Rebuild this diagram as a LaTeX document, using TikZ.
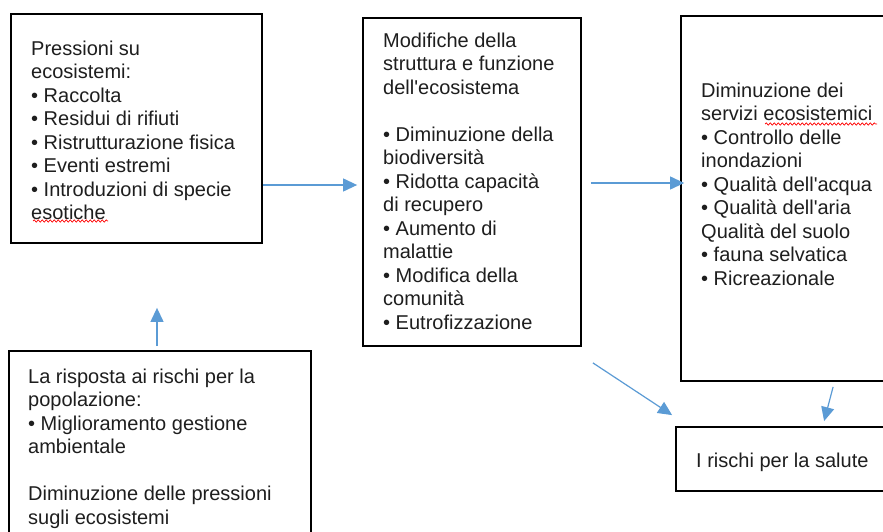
\documentclass[tikz,border=0pt]{standalone}
\usepackage{fontspec}
\setmainfont{Liberation Sans}
\usetikzlibrary{arrows.meta,decorations.pathmorphing}
\definecolor{arrblue}{RGB}{91,155,213}
\definecolor{txtgray}{RGB}{30,30,30}
\begin{document}
\begin{tikzpicture}[x=1pt,y=-1pt,
  box/.style={draw=black, line width=1.8pt, inner sep=0pt, fill=white},
  txt/.style={anchor=north west, inner sep=0pt, align=left, font=\fontsize{20}{23.5}\selectfont, text=txtgray},
  arr/.style={draw=arrblue, line width=1.2pt, -{Triangle[length=14pt,width=13pt,fill=arrblue]}},
  squiggle/.style={draw=red, line width=0.7pt, decorate, decoration={snake, amplitude=1.1pt, segment length=4pt}}]
\useasboundingbox (0,0) rectangle (883,532);
\clip (0,0) rectangle (883,532);
\fill[white] (0,0) rectangle (883,532);

% boxes
\node[box, minimum width=251pt, minimum height=229pt] (A) at (136.5,128.5) {};
\node[box, minimum width=218pt, minimum height=328pt] (B) at (472,182) {};
\node[box, minimum width=214pt, minimum height=365pt] (C) at (788,198.5) {};
\node[box, minimum width=302pt, minimum height=219pt] (D) at (160,460.5) {};
\node[box, minimum width=224pt, minimum height=64pt] (E) at (788,459) {};

% texts
\node[txt] (TA) at (31,38.55) {\strut Pressioni su\\ecosistemi:\\• Raccolta\\• Residui di rifiuti\\• Ristrutturazione fisica\\• Eventi estremi\\• Introduzioni di specie\\esotiche};
\node[txt] (TB) at (383,30.55) {\strut Modifiche della\\struttura e funzione\\dell\textquotesingle ecosistema\\[23.5pt]• Diminuzione della\\biodiversità\\• Ridotta capacità\\di recupero\\• Aumento di\\malattie\\• Modifica della\\comunità\\• Eutrofizzazione};
\node[txt] (TC) at (701,80.55) {\strut Diminuzione dei\\servizi ecosistemici\\• Controllo delle\\inondazioni\\• Qualità dell\textquotesingle acqua\\• Qualità dell\textquotesingle aria\\Qualità del suolo\\• fauna selvatica\\• Ricreazionale};
\node[txt] (TD) at (28,366.55) {\strut La risposta ai rischi per la\\popolazione:\\• Miglioramento gestione\\ambientale\\[23.5pt]Diminuzione delle pressioni\\sugli ecosistemi};
\node[txt] (TE) at (696,450.55) {\strut I rischi per la salute};

% spell-check squiggles
\draw[squiggle] (33,221) -- (108,221);
\draw[squiggle] (765,124) -- (877,124);

% connectors
\draw[arr, shorten >=5pt] ([yshift=-56.5pt]A.east) -- ([yshift=-3pt]B.west);
\draw[arr, shorten >=-4pt] ([shift={(9pt,-1pt)}]B.east) -- ([yshift=15.5pt]C.west);
\draw[arr] ([shift={(11pt,-16pt)}]B.south east) -- ([shift={(-3pt,11pt)}]E.north west);
\draw[arr] ([shift={(153pt,-5pt)}]C.south west) -- ([shift={(149pt,5pt)}]E.north west);
\draw[arr, shorten >=64pt] ([shift={(-3pt,4pt)}]D.north) -- ([xshift=20.5pt]A.south);
\end{tikzpicture}
\end{document}
